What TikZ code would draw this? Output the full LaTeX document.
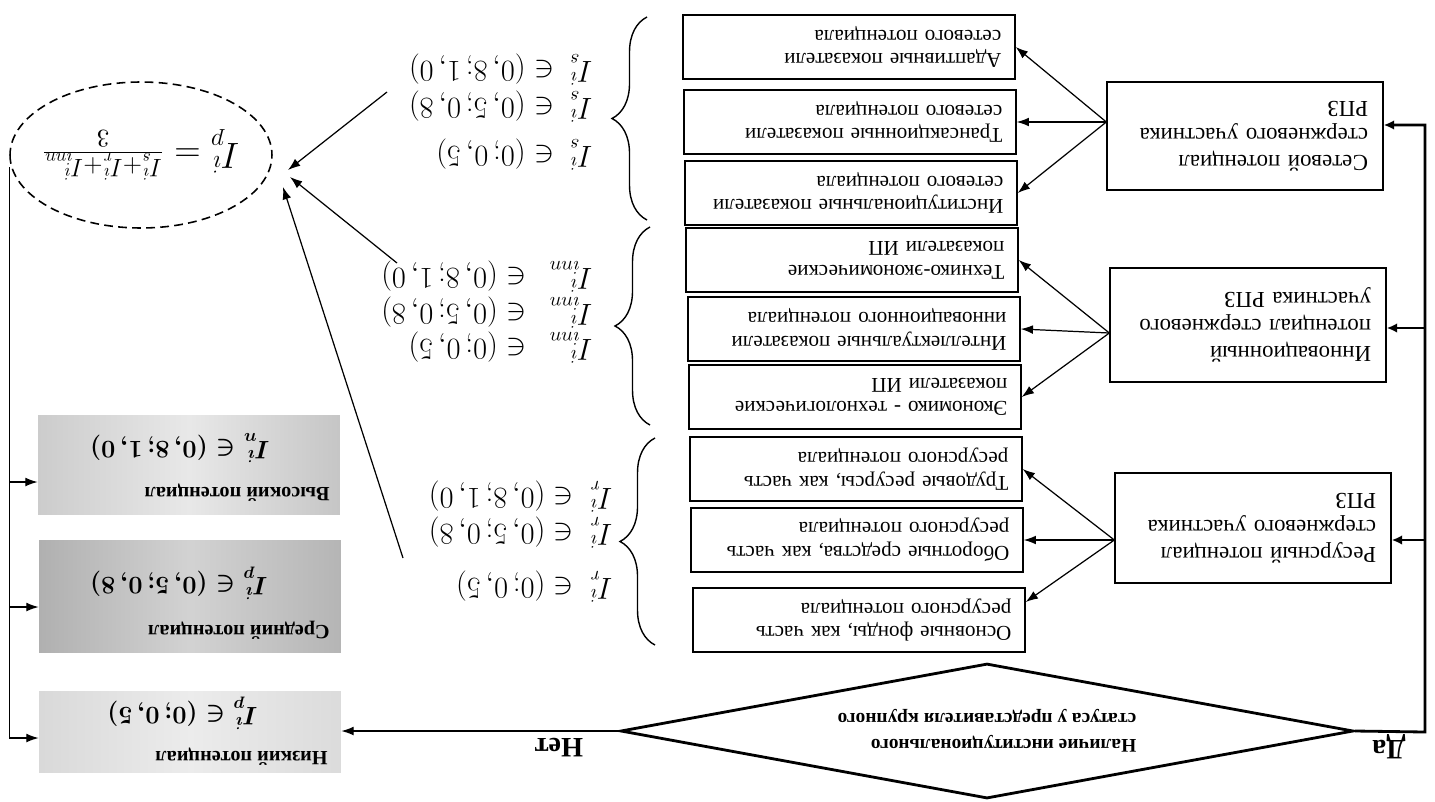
\documentclass[tikz,border=0pt]{standalone}
\usepackage{fontspec}
\setmainfont{Liberation Serif}
\usetikzlibrary{arrows.meta,shapes.geometric,decorations.pathreplacing,calc}
\begin{document}
\begin{tikzpicture}[x=0.02cm,y=0.02cm,rotate=180,transform shape,
  sbox/.style={draw,line width=0.8pt,align=left,text width=6.1cm,inner xsep=0.27cm,inner ysep=0pt,minimum height=1.28cm,font=\fontsize{12}{13.5}\selectfont},
  bbox/.style={draw,line width=0.8pt,align=left,text width=4.92cm,inner xsep=0.3cm,inner ysep=0pt,font=\fontsize{13}{15.5}\selectfont},
  thinarr/.style={line width=0.7pt,-{Latex[length=7pt,width=5pt]}},
  thickarr/.style={line width=1.6pt,line join=miter,-{Latex[length=6pt,width=5.5pt]}},
  brc/.style={decorate,decoration={brace,amplitude=0.7cm},line width=0.8pt},
  lbl/.style={anchor=west,inner sep=0pt,font=\fontsize{16}{18}\selectfont},
  gbox/.style={minimum width=6.04cm,inner sep=0pt},
  gtitle/.style={anchor=west,inner sep=0pt,font=\fontsize{11.5}{13}\selectfont\bfseries},
  gform/.style={anchor=west,inner sep=0pt,font=\fontsize{14}{16}\selectfont\boldmath},
  yn/.style={inner sep=0pt,font=\fontsize{16}{18}\selectfont\bfseries}
]
\fill[white] (0,0) rectangle (-1435,801);
\useasboundingbox (0,0) rectangle (-1435,801);

% big boxes
\node[bbox,minimum height=2.16cm] (S) at (-1245,136) {Сетевой потенциал\\стержневого участника\\РПЗ};
\node[bbox,minimum height=2.28cm] (N) at (-1248,325) {Инновационный\\потенциал стержневого\\участника РПЗ};
\node[bbox,minimum height=2.2cm] (R) at (-1253,528) {Ресурсный потенциал\\стержневого участника\\РПЗ};

% small boxes
\node[sbox] (b1) at (-849,47) {Адаптивные показатели\\сетевого потенциала};
\node[sbox] (b2) at (-850,122) {Трансакционные показатели\\сетевого потенциала};
\node[sbox] (b3) at (-851,193) {Институциональные показатели\\сетевого потенциала};
\node[sbox] (b4) at (-852,260) {Технико-экономические\\показатели ИП};
\node[sbox] (b5) at (-854,329) {Интеллектуальные показатели\\инновационного потенциала};
\node[sbox] (b6) at (-855,397) {Экономико - технологические\\показатели ИП};
\node[sbox] (b7) at (-856,469) {Трудовые ресурсы, как часть\\ресурсного потенциала};
\node[sbox] (b8) at (-857,540) {Оборотные средства, как часть\\ресурсного потенциала};
\node[sbox] (b9) at (-859,620) {Основные фонды, как часть\\ресурсного потенциала};

% diamond
\node[draw,diamond,aspect=5.4,line width=1.6pt,minimum width=14.66cm,minimum height=2.7cm,inner sep=0pt,align=left,font=\fontsize{11}{15}\selectfont\bfseries] (D) at (-987,731) {Наличие институционального\\статуса у представителя крупного};

% trunk
\coordinate (c0) at (-1425,732);
\coordinate (c1) at (-1425,125);
\coordinate (c2) at (-1425,328);
\coordinate (c3) at (-1425,540);
\draw[thickarr] (D.west) -- (c0) -- (c1) -- (c1 -| S.west);
\draw[thickarr] (c2) -- (c2 -| N.west);
\draw[thickarr] (c3) -- (c3 -| R.west);
\node[yn] (da) at (-1389,747) {Да};

% fan-out arrows
\coordinate (aS) at ($(S.east)+(0,-14)$);
\coordinate (aN) at ($(N.east)+(0,8)$);
\coordinate (aR) at ($(R.east)+(0,12)$);
\draw[thinarr] (aS) -- (b1.west);
\draw[thinarr] (aS) -- (b2.west);
\draw[thinarr] (aS) -- (b3.west);
\draw[thinarr] (aN) -- (b4.west);
\draw[thinarr] (aN) -- (b5.west);
\draw[thinarr] (aN) -- (b6.west);
\draw[thinarr] (aR) -- (b7.west);
\draw[thinarr] (aR) -- (b8.west);
\draw[thinarr] (aR) -- ($(b9.west)+(0,-18)$);

% braces
\draw[brc] (-647,220) -- (-647,17);
\draw[brc] (-650,425) -- (-650,227);
\draw[brc] (-655,645) -- (-655,438);

% labels
\node[lbl] (s1) at (-593,155) {$I^i_s\ \in (0; 0,5)$};
\node[lbl] (s2) at (-593,107) {$I^i_s\ \in (0,5; 0,8)$};
\node[lbl] (s3) at (-593,70) {$I^i_s\ \in (0,8; 1,0)$};
\node[lbl] (n1) at (-593,348) {$I^i_{inn}\ \ \in (0; 0,5)$};
\node[lbl] (n2) at (-593,313) {$I^i_{inn}\ \ \in (0,5; 0,8)$};
\node[lbl] (n3) at (-593,277) {$I^i_{inn}\ \ \in (0,8; 1,0)$};
\node[lbl] (r1) at (-613,587) {$I^i_r\ \in (0; 0,5)$};
\node[lbl] (r2) at (-613,533) {$I^i_r\ \in (0,5; 0,8)$};
\node[lbl] (r3) at (-613,497) {$I^i_r\ \in (0,8; 1,0)$};

% ellipse
\node[draw,ellipse,line width=0.9pt,dash pattern=on 5pt off 3pt,minimum width=5.24cm,minimum height=2.92cm,inner sep=0pt] (E) at (-141,155) {};
\node[inner sep=0pt,font=\fontsize{20}{24}\selectfont] (Ef) at (E.center) {$I^i_p = \frac{I^i_s+I^i_r+I^i_{inn}}{3}$};

\coordinate (f1) at (-387,92);  \coordinate (t1) at (-288,170);
\coordinate (f2) at (-397,263); \coordinate (t2) at (-290,177);
\coordinate (f3) at (-403,558); \coordinate (t3) at (-283,187);
\draw[thinarr] (f1) -- (t1);
\draw[thinarr] (f2) -- (t2);
\draw[thinarr] (f3) -- (t3);

% result boxes
\node[gbox,minimum height=2.0cm,left color=gray!40,right color=gray!45,middle color=gray!18] (G1) at (-189,465) {};
\node[gbox,minimum height=2.24cm,left color=gray!62,right color=gray!58,middle color=gray!35] (G2) at (-190,596) {};
\node[gbox,minimum height=1.62cm,left color=gray!30,right color=gray!28,middle color=gray!15] (G3) at (-190,732) {};
\node[gtitle] (h1) at (-330,493) {Высокий потенциал};
\node[gform] (h2) at (-270,448) {$I^i_n \in (0,8; 1,0)$};
\node[gtitle] (m1) at (-330,630) {Средний потенциал};
\node[gform] (m2) at (-268,583) {$I^i_p \in (0,5; 0,8)$};
\node[gtitle] (l1) at (-328,757) {Низкий потенциал};
\node[gform] (l2) at (-258,713) {$I^i_p \in (0; 0,5)$};

% left distribution line
\coordinate (L0) at ($(E.east)+(0,12)$);
\coordinate (L1) at (-12,738);
\draw[line width=0.7pt] (L0) -- (L0 |- L1);
\coordinate (g1) at (-12,482);
\coordinate (g2) at (-12,607);
\draw[thinarr] (L0 |- g1) -- (g1 -| G1.east);
\draw[thinarr] (L0 |- g2) -- (g2 -| G2.east);
\draw[thinarr] (L0 |- L1) -- (L1 -| G3.east);

% No branch
\draw[thinarr] (D.east) -- (D.east -| G3.west);
\node[yn] (net) at (-559,748) {Нет};
\end{tikzpicture}
\end{document}
